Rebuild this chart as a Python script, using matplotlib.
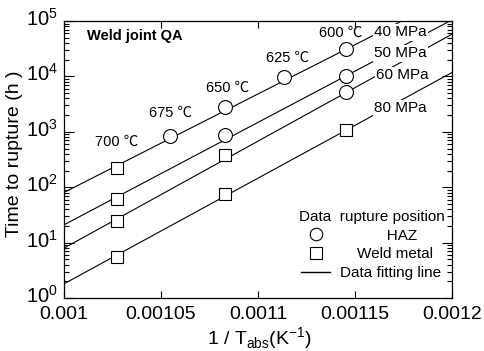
import matplotlib
matplotlib.use("Agg")
import matplotlib.pyplot as plt
import numpy as np
from matplotlib.ticker import LogLocator, FixedLocator, FixedFormatter, NullFormatter
from matplotlib.transforms import ScaledTranslation
from matplotlib.lines import Line2D

plt.rcParams['font.family'] = ['Liberation Sans', 'Noto Sans CJK JP', 'DejaVu Sans']
plt.rcParams['mathtext.fontset'] = 'custom'
plt.rcParams['mathtext.rm'] = 'Liberation Sans'

# --- data ---
# HAZ ruptures (circles): temperature in C, time to rupture in h
haz_temp = [675, 650, 650, 625, 600, 600, 600]
haz_time = [850, 2830, 875, 9800, 31000, 10300, 5150]
# weld metal ruptures (squares)
wm_temp = [700, 700, 700, 700, 650, 650, 600]
wm_time = [222, 61, 25, 5.4, 381, 77, 1070]

# fitted lines, time at 1/T = 0.001 and 1/T = 0.0012
stress_labels = ["40 MPa", "50 MPa", "60 MPa", "80 MPa"]
fit_x = [0.001, 0.0012]
fit_t_start = [80, 20.8, 7.9, 1.79]
fit_t_end = [2.9e5, 1.05e5, 5.8e4, 1.18e4]

temp_labels = ["700 ℃", "675 ℃", "650 ℃", "625 ℃", "600 ℃"]
x_ticks = [0.001, 0.00105, 0.0011, 0.00115, 0.0012]
x_ticklabels = ["0.001", "0.00105", "0.0011", "0.00115", "0.0012"]


def inv_abs(t_c):
    return 1.0 / (np.asarray(t_c, dtype=float) + 273.15)


fig = plt.figure(figsize=(4.84, 3.51), dpi=100)
ax = fig.add_axes([0.1316, 0.151, 0.8024, 0.789])

for t0, t1 in zip(fit_t_start, fit_t_end):
    ax.plot(fit_x, [t0, t1], color='black', lw=0.8, zorder=2)

ax.plot(inv_abs(haz_temp), haz_time, 'o', ms=10, mfc='white', mec='black', mew=0.8, zorder=4)
ax.plot(inv_abs(wm_temp), wm_time, 's', ms=8, mfc='white', mec='black', mew=0.8, zorder=4)

ax.set_yscale('log')
ax.set_xlim(0.001, 0.0012)
ax.set_ylim(1, 1e5)
ax.xaxis.set_major_locator(FixedLocator(x_ticks))
ax.xaxis.set_major_formatter(FixedFormatter(x_ticklabels))
ax.yaxis.set_major_locator(LogLocator(base=10, numticks=10))
ax.yaxis.set_minor_locator(LogLocator(base=10, subs=np.arange(2, 10), numticks=10))
ax.yaxis.set_minor_formatter(NullFormatter())
ax.tick_params(which='both', direction='in', top=True, right=True, width=0.8)
ax.tick_params(axis='x', which='major', length=5, labelsize=14, pad=6)
ax.tick_params(axis='y', which='major', length=7, labelsize=14.5, pad=4)
ax.tick_params(axis='y', which='minor', length=3.5)
for sp in ax.spines.values():
    sp.set_linewidth(0.9)

# y tick labels sit a little above their ticks in the original
lift = ScaledTranslation(0, 3 / 72, fig.dpi_scale_trans)
for lab in ax.get_yticklabels():
    lab.set_transform(lab.get_transform() + lift)

ax.set_ylabel("Time to rupture (h )", fontsize=14)
ax.yaxis.set_label_coords(-0.105, 0.52)
ax.set_xlabel(r"1 / T$_{\mathdefault{abs}}$(K$^{\mathdefault{-1}}$)", fontsize=14)
ax.xaxis.set_label_coords(0.503, -0.1)

ax.text(0.06, 0.945, "Weld joint QA", transform=ax.transAxes, fontsize=10.5,
        fontweight='bold', va='center', ha='left')

temp_pos = [(0.136, 0.563), (0.275, 0.668), (0.422, 0.758), (0.576, 0.866), (0.713, 0.957)]
for lab, (px, py) in zip(temp_labels, temp_pos):
    ax.text(px, py, lab, transform=ax.transAxes, fontsize=10.5, ha='center', va='center')

stress_pos = [(0.80, 0.960), (0.80, 0.884), (0.805, 0.805), (0.80, 0.686)]
for lab, (px, py) in zip(stress_labels, stress_pos):
    ax.text(px, py, lab, transform=ax.transAxes, fontsize=11, ha='left', va='center',
            zorder=5, bbox=dict(facecolor='white', edgecolor='none', pad=1.0))

handles = [
    Line2D([], [], ls='none', marker='o', ms=9, mfc='white', mec='black', mew=0.8),
    Line2D([], [], ls='none', marker='s', ms=8, mfc='white', mec='black', mew=0.8),
    Line2D([], [], color='black', lw=1.0),
]
leg = ax.legend(handles, ["           HAZ", "    Weld metal", "Data fitting line"],
                title="Data  rupture position", frameon=False, fontsize=11,
                title_fontsize=11, loc='lower right', bbox_to_anchor=(0.98, 0.065),
                borderpad=0, borderaxespad=0, handlelength=1.9, handletextpad=0.65,
                labelspacing=0.3)

fig.savefig("out.png", dpi=100)
